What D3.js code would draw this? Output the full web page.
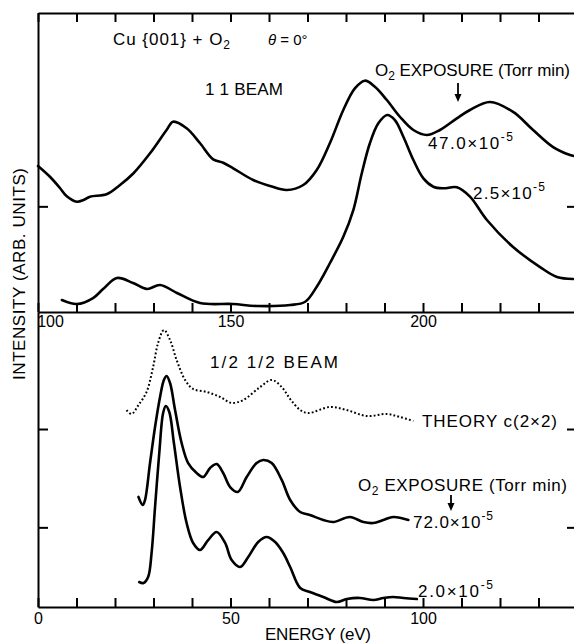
<!DOCTYPE html>
<html>
<head>
<meta charset="utf-8">
<script src="https://cdn.jsdelivr.net/npm/d3@7"></script>
<style>
  html, body { margin: 0; padding: 0; background: #fff; }
  svg { display: block; }
  text { font-family: 'Liberation Sans', Arial, sans-serif; fill: #000; }
</style>
</head>
<body>
<svg id="chart" width="574" height="643"></svg>
<script>
// ---------- DATA ----------
// Upper panel: (1,1) beam, energy range 100-240 eV
const topTicks = [100, 110, 120, 130, 140, 150, 160, 170, 180, 190, 200, 210, 220, 230, 240];
const topTickLabels = [100, 150, 200];
const topYTicks = [10.6];

const energy47 = [100, 103.1, 105.7, 107.4, 110.1, 111.8, 113.5, 117.8, 121.3, 124.8, 129.1, 133.4, 135.1, 138.6, 142.1, 145.5, 148.1, 150.7, 155.9, 160.3, 164.6, 168.9, 172.4, 175.8, 179.3, 182.3, 184.9, 187.5, 190.6, 194.0, 197.5, 201.0, 204.4, 208.8, 212.2, 217.4, 223.4, 228.6, 233.8, 238.2, 239.2];
const intensity47 = [14.65, 13.57, 12.44, 11.64, 11.07, 11.24, 11.57, 11.81, 12.74, 13.92, 15.92, 18.26, 19.09, 18.43, 16.93, 15.32, 14.98, 14.42, 13.24, 12.64, 12.24, 12.74, 14.25, 16.93, 20.27, 22.44, 23.21, 22.60, 21.27, 19.59, 18.26, 17.76, 18.26, 19.43, 20.27, 21.07, 20.07, 18.26, 16.55, 15.75, 15.65];

const energy25 = [106.2, 110.1, 114.3, 116.9, 120.5, 124.7, 128.3, 131.7, 136.1, 142.1, 150.6, 156.9, 165.5, 169.4, 172.4, 175.8, 179.3, 181.9, 184.1, 186.2, 188.4, 190.7, 192.7, 194.9, 197.5, 200.1, 202.7, 205.3, 208.8, 212.2, 216.6, 223.4, 230.4, 234.8, 239.0];
const intensity25 = [1.20, 0.80, 1.40, 2.30, 3.41, 2.91, 2.31, 2.71, 1.91, 0.90, 0.80, 0.60, 0.70, 1.03, 2.54, 4.89, 7.55, 10.23, 13.92, 16.93, 18.93, 19.77, 19.26, 17.59, 15.25, 13.41, 12.57, 12.41, 12.51, 11.57, 9.23, 6.52, 4.51, 3.51, 3.31];

// Lower panel: (1/2,1/2) beam, energy range 0-140 eV
const botTicks = [0, 10, 20, 30, 40, 50, 60, 70, 80, 90, 100, 110, 120, 130, 140];
const botTickLabels = [0, 50, 100];
const botYTicks = [8.1, 18.1];

const energyTheory = [23.0, 24.3, 26.1, 28.2, 29.9, 31.2, 32.7, 34.3, 36.0, 38.2, 40.3, 43.8, 47.3, 50.3, 53.3, 57.7, 60.7, 63.3, 65.5, 68.1, 70.2, 75.8, 80.2, 85.4, 90.6, 94.0, 97.5];
const intensityTheory = [20.03, 19.63, 20.54, 21.87, 24.41, 26.85, 28.17, 27.15, 25.12, 23.09, 22.17, 21.87, 21.36, 20.75, 21.05, 22.37, 23.09, 22.37, 21.15, 20.03, 19.72, 20.34, 20.03, 19.42, 19.63, 19.32, 18.92];

const energy72 = [26.1, 27.2, 27.8, 29.1, 30.4, 31.7, 32.7, 33.4, 34.3, 35.6, 37.3, 39.0, 41.2, 42.9, 44.7, 46.4, 48.1, 49.9, 51.9, 54.2, 56.8, 58.5, 60.7, 63.3, 65.5, 68.1, 70.6, 74.1, 76.7, 81.0, 84.5, 87.1, 89.7, 92.3, 96.2];
const intensity72 = [11.19, 10.37, 10.88, 14.64, 18.31, 21.36, 23.09, 23.49, 22.78, 20.03, 16.68, 14.64, 13.63, 13.22, 14.14, 14.54, 13.63, 12.20, 11.70, 13.22, 14.64, 14.95, 14.64, 12.92, 10.88, 9.66, 9.36, 8.85, 8.64, 9.15, 8.64, 8.54, 8.85, 9.15, 8.85];

const energy20 = [26.3, 27.4, 28.6, 29.5, 30.4, 31.5, 32.5, 33.2, 34.1, 35.3, 36.9, 38.6, 40.3, 42.1, 44.2, 46.4, 48.6, 50.3, 52.5, 54.6, 57.2, 59.4, 61.6, 63.7, 65.5, 68.1, 70.6, 74.1, 77.6, 80.2, 83.6, 87.1, 89.7, 92.3, 94.9, 98.4];
const intensity20 = [2.54, 2.44, 3.05, 5.49, 10.17, 15.66, 19.73, 20.44, 19.83, 16.68, 12.20, 8.54, 6.51, 5.80, 6.81, 7.63, 6.51, 4.78, 4.07, 5.08, 6.61, 7.12, 6.61, 5.49, 4.07, 1.93, 1.53, 1.02, 0.51, 0.81, 0.92, 0.71, 0.92, 1.02, 0.92, 0.81];

// ---------- LAYOUT ----------
const svg = d3.select('#chart');
const L = 38, R = 577, T = 13, MID = 312, B = 607;
const FS = 17, SUB = 12;

const xTop = d3.scaleLinear().domain([100, 240]).range([L, R]);
const xBot = d3.scaleLinear().domain([0, 140]).range([L, R]);
const yTop = d3.scaleLinear().domain([0, 30]).range([MID, T]);
const yBot = d3.scaleLinear().domain([0, 30]).range([B, MID]);

function styleAxis(g) {
  g.selectAll('path.domain').attr('stroke', '#000').attr('stroke-width', 2);
  g.selectAll('.tick line').attr('stroke', '#000').attr('stroke-width', 2);
  g.selectAll('.tick text').attr('font-size', 16).attr('fill', '#000')
    .attr('font-family', "'Liberation Sans', Arial, sans-serif");
}

// Top panel axes
svg.append('g').attr('transform', `translate(0,${T})`)
  .call(d3.axisTop(xTop).tickValues(topTicks).tickSizeInner(-9).tickSizeOuter(0).tickFormat(''))
  .call(styleAxis);
const gTopX = svg.append('g').attr('transform', `translate(0,${MID})`)
  .call(d3.axisBottom(xTop).tickValues(topTicks).tickSizeInner(-9).tickSizeOuter(0).tickPadding(4)
    .tickFormat(d => topTickLabels.includes(d) ? d : ''))
  .call(styleAxis);
gTopX.selectAll('.tick text').filter(d => d === 100).attr('dx', 12);

svg.append('g').attr('transform', `translate(${L},0)`)
  .call(d3.axisLeft(yTop).tickValues(topYTicks).tickSizeInner(-10).tickSizeOuter(0).tickFormat(''))
  .call(styleAxis);
svg.append('g').attr('transform', `translate(${R},0)`)
  .call(d3.axisRight(yTop).tickValues(topYTicks).tickSizeInner(-10).tickSizeOuter(0).tickFormat(''))
  .call(styleAxis);

// Bottom panel axes
svg.append('g').attr('transform', `translate(0,${B})`)
  .call(d3.axisBottom(xBot).tickValues(botTicks).tickSizeInner(-9).tickSizeOuter(0).tickPadding(6)
    .tickFormat(d => botTickLabels.includes(d) ? d : ''))
  .call(styleAxis);
svg.append('g').attr('transform', `translate(${L},0)`)
  .call(d3.axisLeft(yBot).tickValues(botYTicks).tickSizeInner(-10).tickSizeOuter(0).tickFormat(''))
  .call(styleAxis);
svg.append('g').attr('transform', `translate(${R},0)`)
  .call(d3.axisRight(yBot).tickValues(botYTicks).tickSizeInner(-10).tickSizeOuter(0).tickFormat(''))
  .call(styleAxis);

// ---------- CURVES ----------
function drawCurve(xs, ys, xScale, yScale, dashed) {
  const pts = xs.map((e, i) => [e, ys[i]]);
  const line = d3.line().x(d => xScale(d[0])).y(d => yScale(d[1]))
    .curve(d3.curveCatmullRom.alpha(0.5));
  const p = svg.append('path').datum(pts).attr('d', line)
    .attr('fill', 'none').attr('stroke', '#000')
    .attr('stroke-linejoin', 'round');
  if (dashed) {
    p.attr('stroke-width', 2).attr('stroke-dasharray', '1.8,2.2');
  } else {
    p.attr('stroke-width', 2.6).attr('stroke-linecap', 'round');
  }
}
drawCurve(energy47, intensity47, xTop, yTop, false);
drawCurve(energy25, intensity25, xTop, yTop, false);
drawCurve(energyTheory, intensityTheory, xBot, yBot, true);
drawCurve(energy72, intensity72, xBot, yBot, false);
drawCurve(energy20, intensity20, xBot, yBot, false);

// ---------- TEXT ----------
function label(x, y, segs, size, len, opts) {
  const t = svg.append('text').attr('x', x).attr('y', y).attr('font-size', size);
  if (len) t.attr('textLength', len).attr('lengthAdjust', 'spacing');
  if (opts && opts.transform) t.attr('transform', opts.transform);
  if (opts && opts.anchor) t.attr('text-anchor', opts.anchor);
  segs.forEach(s => {
    const ts = t.append('tspan').text(s.t);
    if (s.size) ts.attr('font-size', s.size);
    if (s.dy) ts.attr('dy', s.dy);
    if (s.italic) ts.attr('font-style', 'italic');
  });
  return t;
}
function arrow(x, y1, y2) {
  svg.append('line').attr('x1', x).attr('x2', x).attr('y1', y1).attr('y2', y2 - 4)
    .attr('stroke', '#000').attr('stroke-width', 1.8);
  svg.append('path').attr('d', `M${x - 3.5},${y2 - 8} L${x + 3.5},${y2 - 8} L${x},${y2} Z`).attr('fill', '#000');
}

// Top panel
label(113, 45, [{t: 'Cu {001} + O'}, {t: '2', size: SUB, dy: 4}], FS, 117);
label(268, 45, [{t: 'θ', italic: true}, {t: ' = 0°'}], 15, null);
label(205, 95, [{t: '1 1 BEAM'}], FS, 78);
label(375, 76, [{t: 'O'}, {t: '2', size: SUB, dy: 4}, {t: ' EXPOSURE (Torr min)', dy: -4}], FS, 195);
arrow(458, 83, 102);
label(428, 149, [{t: '47.0×10'}, {t: '-5', size: SUB, dy: -8}], FS, 85);
label(473, 199, [{t: '2.5×10'}, {t: '-5', size: SUB, dy: -8}], FS, 72);

// Bottom panel
label(210, 368, [{t: '1/2  1/2 BEAM'}], FS, 128);
label(422, 427, [{t: 'THEORY c(2×2)'}], FS, 135);
label(358, 491, [{t: 'O'}, {t: '2', size: SUB, dy: 4}, {t: ' EXPOSURE (Torr min)', dy: -4}], FS, 209);
arrow(451, 495, 511);
label(413, 528, [{t: '72.0×10'}, {t: '-5', size: SUB, dy: -8}], FS, 80);
label(418, 597, [{t: '2.0×10'}, {t: '-5', size: SUB, dy: -8}], FS, 75);

// Axis titles
label(265, 640, [{t: 'ENERGY (eV)'}], FS, 106);
label(0, 0, [{t: 'INTENSITY (ARB. UNITS)'}], FS, 212,
  {transform: 'translate(25,274) rotate(-90)', anchor: 'middle'});
</script>
</body>
</html>
